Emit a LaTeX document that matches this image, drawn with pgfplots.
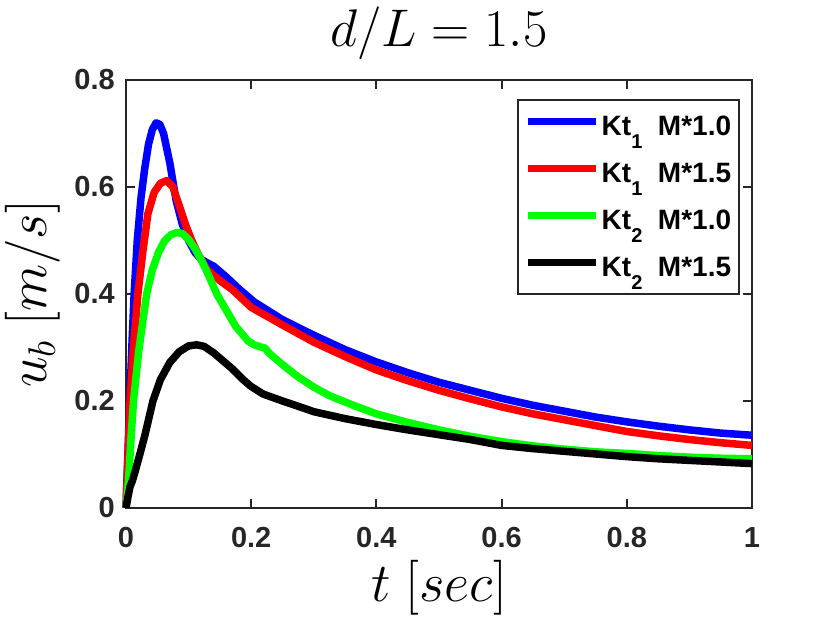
\RequirePackage{fix-cm}
\documentclass[border=0pt]{standalone}
\usepackage{pgfplots}
\pgfplotsset{compat=1.18}
\usepackage{fontspec}
\setmainfont{Liberation Sans}
\definecolor{axcol}{RGB}{38,38,38}
\newcommand\sub[1]{\raisebox{-13pt}{\fontsize{20}{20}\selectfont #1}}
\begin{document}
\begin{tikzpicture}
\useasboundingbox (0,0) rectangle (830pt,623pt);
\begin{axis}[
 at={(126pt,115pt)}, anchor=south west,
 scale only axis, width=626pt, height=428pt,
 xmin=0,xmax=1,ymin=0,ymax=0.8,
 clip=false,
 xtick={0,0.2,0.4,0.6,0.8,1}, ytick={0,0.2,0.4,0.6,0.8},
 axis line style={draw=axcol, line width=2pt},
 tick style={draw=axcol, line width=2pt},
 major tick length=9pt,
 tick align=inside,
 ticklabel style={font=\fontsize{29}{29}\selectfont\bfseries, text=axcol},
 /pgf/number format/assume math mode=true,
 xticklabel style={inner sep=0pt, yshift=-19pt},
 yticklabel style={inner sep=0pt, xshift=-11pt},
 title={$d/L=1.5$},
 title style={font=\fontsize{53}{53}\selectfont, at={(axis description cs:0.5,1.0654)}, anchor=base, inner sep=0pt},
 xlabel={$t\ [sec]$},
 xlabel style={font=\fontsize{55}{55}\selectfont, at={(axis description cs:0.5,-0.2196)}, anchor=base, inner sep=0pt},
 ylabel={$u_b\ [m/s]$},
 ylabel style={font=\fontsize{55}{55}\selectfont, at={(axis description cs:-0.1262,0.5)}, anchor=base, inner sep=0pt},
 legend style={at={(axis description cs:0.981,0.9556)}, anchor=north east, draw=axcol, line width=2pt, fill=white, font=\fontsize{28}{28}\selectfont\bfseries, inner xsep=6pt, inner ysep=14pt, row sep=22pt, nodes={inner sep=2pt}, text=black},
 legend cell align=left,
 legend image code/.code={\draw[#1] (0pt,5pt) -- (68pt,5pt);},
]
\addplot[blue, line width=7.5pt, line join=round] coordinates {
(0,0) (0.003,0.10) (0.006,0.2) (0.01,0.32) (0.013,0.40) (0.018,0.50) (0.024,0.58) (0.03,0.635) (0.036,0.68) (0.042,0.707) (0.048,0.72) (0.054,0.717) (0.06,0.70) (0.07,0.645) (0.08,0.575) (0.09,0.53) (0.10,0.50) (0.11,0.478) (0.12,0.465) (0.13,0.458) (0.14,0.452) (0.16,0.432) (0.18,0.41) (0.205,0.385) (0.25,0.352) (0.3,0.323) (0.35,0.296) (0.4,0.273) (0.45,0.253) (0.5,0.235) (0.55,0.22) (0.6,0.205) (0.65,0.192) (0.7,0.181) (0.75,0.170) (0.8,0.161) (0.85,0.153) (0.9,0.146) (0.95,0.140) (1.0,0.136)
};
\addlegendentry{Kt\sub{1}\ \ M*1.0}
\addplot[red, line width=7.5pt, line join=round] coordinates {
(0,0) (0.0065,0.2) (0.012,0.30) (0.019,0.40) (0.027,0.48) (0.035,0.55) (0.045,0.59) (0.055,0.607) (0.065,0.612) (0.075,0.60) (0.085,0.565) (0.095,0.53) (0.105,0.50) (0.115,0.475) (0.13,0.445) (0.15,0.425) (0.17,0.408) (0.2,0.375) (0.25,0.342) (0.3,0.31) (0.35,0.283) (0.4,0.258) (0.45,0.238) (0.5,0.22) (0.55,0.204) (0.6,0.189) (0.65,0.176) (0.7,0.165) (0.75,0.154) (0.8,0.143) (0.85,0.135) (0.9,0.128) (0.95,0.122) (1.0,0.117)
};
\addlegendentry{Kt\sub{1}\ \ M*1.5}
\addplot[green, line width=7.5pt, line join=round] coordinates {
(0,0) (0.004,0.05) (0.008,0.13) (0.012,0.2) (0.02,0.29) (0.027,0.35) (0.033,0.40) (0.042,0.445) (0.052,0.478) (0.062,0.50) (0.072,0.511) (0.082,0.515) (0.09,0.513) (0.1,0.502) (0.11,0.485) (0.12,0.464) (0.13,0.44) (0.145,0.40) (0.16,0.37) (0.175,0.34) (0.195,0.312) (0.205,0.305) (0.215,0.301) (0.222,0.299) (0.228,0.29) (0.24,0.278) (0.25,0.268) (0.275,0.245) (0.3,0.226) (0.325,0.21) (0.363,0.192) (0.4,0.176) (0.45,0.16) (0.5,0.146) (0.55,0.134) (0.6,0.124) (0.65,0.116) (0.7,0.110) (0.75,0.105) (0.8,0.102) (0.85,0.098) (0.9,0.095) (0.95,0.093) (1.0,0.092)
};
\addlegendentry{Kt\sub{2}\ \ M*1.0}
\addplot[black, line width=7.5pt, line join=round] coordinates {
(0,0) (0.003,0.02) (0.0064,0.04) (0.01,0.05) (0.015,0.07) (0.022,0.10) (0.03,0.135) (0.043,0.20) (0.055,0.24) (0.07,0.272) (0.085,0.292) (0.1,0.303) (0.113,0.305) (0.125,0.302) (0.14,0.29) (0.15,0.28) (0.17,0.26) (0.187,0.24) (0.2,0.227) (0.219,0.213) (0.25,0.2) (0.283,0.187) (0.3,0.18) (0.35,0.167) (0.4,0.156) (0.45,0.146) (0.5,0.137) (0.55,0.128) (0.6,0.117) (0.65,0.111) (0.7,0.106) (0.75,0.101) (0.8,0.096) (0.85,0.092) (0.9,0.089) (0.95,0.086) (1.0,0.083)
};
\addlegendentry{Kt\sub{2}\ \ M*1.5}
\end{axis}
\end{tikzpicture}
\end{document}
